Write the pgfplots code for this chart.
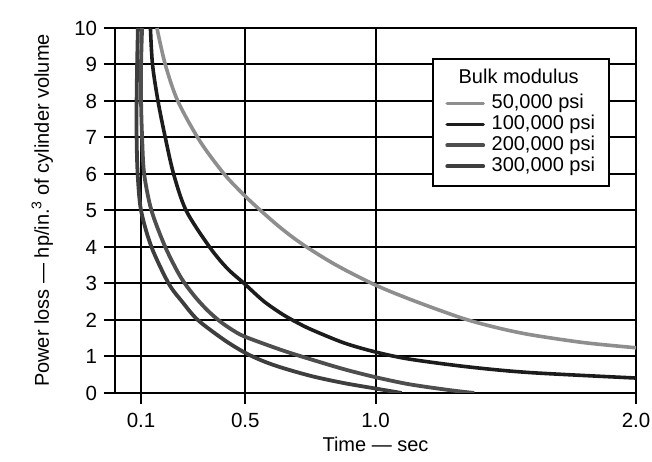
\documentclass[border=0pt]{standalone}
\usepackage{fontspec}
\setmainfont{Liberation Sans}
\usepackage{pgfplots}
\pgfplotsset{compat=1.18}
\usetikzlibrary{calc}
\definecolor{cfifty}{HTML}{8E8E8E}
\definecolor{chundred}{HTML}{1C1C1C}
\definecolor{ctwo}{HTML}{4E4E4E}
\definecolor{cthree}{HTML}{3E3E3E}
\begin{document}
\fontsize{20}{23}\selectfont
\begin{tikzpicture}
\begin{axis}[
  scale only axis, width=521pt, height=365pt,
  xmin=0, xmax=2, ymin=0, ymax=10,
  xtick={0.1,0.5,1,2}, xticklabels={0.1,0.5,1.0,2.0},
  ytick={0,1,2,3,4,5,6,7,8,9,10},
  yticklabels={0,1,2,3,4,5,6,7,8,9,10},
  tick label style={font=\fontsize{20.5}{23}\selectfont},
  xticklabel style={yshift=-2pt},
  tick align=outside, major tick length=11pt,
  xtick pos=bottom, ytick pos=left,
  grid=major, major grid style={black, line width=2pt},
  axis line style={black, line width=2pt},
  tick style={black, line width=2pt},
  xlabel={Time — sec},
  ylabel={Power loss — hp/in.\textsuperscript{3} of cylinder volume},
  label style={font=\fontsize{20}{23}\selectfont},
  xlabel style={at={(axis description cs:0.5,-0.1616)}, anchor=base},
  ylabel style={at={(axis description cs:-0.1267,0.5)}, anchor=base},
  legend style={at={(rel axis cs:0.950,0.918)}, anchor=north east,
    draw=black, line width=1.8pt, fill=white,
    font=\fontsize{20}{20}\selectfont,
    row sep=0pt, column sep=5pt, inner xsep=12.5pt, inner ysep=9pt,
    nodes={inner sep=1.5pt, text height=14pt, text depth=4pt}},
  legend cell align=left,
  legend image code/.code={\draw[#1, line cap=round] (0pt,0pt) -- (36pt,0pt);},
]
\addlegendimage{empty legend}
\addlegendentry[text depth=8pt]{\hspace*{-33pt}Bulk modulus}

\addplot[cfifty, line width=3.6pt, smooth] coordinates {
(0.161,10) (0.193,9) (0.241,8) (0.326,6.9) (0.419,6.0) (0.496,5.42) (0.559,5.0)
(0.640,4.5) (0.725,4.05) (0.850,3.5) (1.002,2.95) (1.150,2.52) (1.333,2.05)
(1.460,1.8) (1.592,1.6) (1.800,1.38) (2.0,1.24)};
\addlegendentry{50,000 psi}

\addplot[chundred, line width=3.6pt, smooth] coordinates {
(0.136,10) (0.144,9) (0.165,8) (0.193,7) (0.225,6) (0.273,5) (0.363,4) (0.430,3.42)
(0.496,3) (0.570,2.52) (0.642,2.16) (0.699,1.93) (0.756,1.73) (0.880,1.37)
(1.002,1.12) (1.129,0.93) (1.350,0.72) (1.592,0.56) (2.0,0.41)};
\addlegendentry{100,000 psi}

\addplot[ctwo, line width=3.8pt, smooth] coordinates {
(0.104,10) (0.100,9) (0.100,8) (0.104,7) (0.112,6) (0.140,5) (0.193,4) (0.250,3.2)
(0.300,2.7) (0.350,2.3) (0.400,1.98) (0.450,1.73) (0.500,1.54) (0.642,1.17)
(0.753,0.92) (0.880,0.65) (1.002,0.43) (1.129,0.24) (1.283,0.08) (1.379,0)};
\addlegendentry{200,000 psi}

\addplot[cthree, line width=3.8pt, smooth] coordinates {
(0.088,10) (0.085,9) (0.083,8) (0.083,7) (0.087,6) (0.100,5) (0.140,4) (0.206,3)
(0.258,2.5) (0.318,2) (0.420,1.45) (0.500,1.1) (0.570,0.87) (0.642,0.69)
(0.756,0.46) (0.880,0.27) (1.002,0.12) (1.100,0)};
\addlegendentry{300,000 psi}
\end{axis}
\pgfresetboundingbox
\path ($(current axis.south west)+(-115pt,-69pt)$) rectangle ($(current axis.north east)+(16pt,28pt)$);
\end{tikzpicture}
\end{document}
